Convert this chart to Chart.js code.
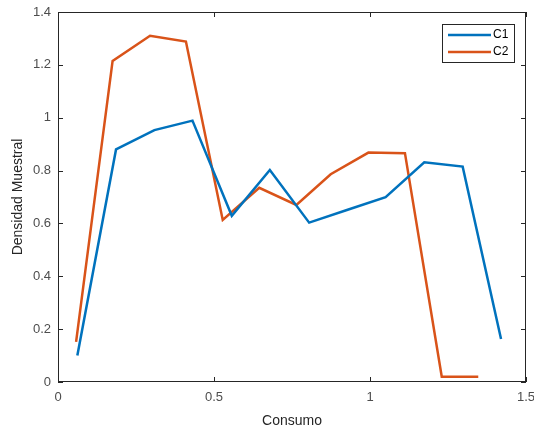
<!DOCTYPE html>
<html>
<head>
<meta charset="utf-8">
<script src="https://cdn.jsdelivr.net/npm/chart.js@4.4.0/dist/chart.umd.min.js"></script>
<style>
  html, body { margin: 0; padding: 0; background: #fff; }
  #wrap { width: 534px; height: 430px; }
</style>
</head>
<body>
<div id="wrap"><canvas id="densityChart" width="534" height="430"></canvas></div>
<script>
// values
const c1X = [0.062, 0.186, 0.309, 0.431, 0.557, 0.679, 0.805, 0.926, 1.050, 1.174, 1.297, 1.420];
const c1Y = [0.100, 0.880, 0.953, 0.989, 0.629, 0.802, 0.603, 0.651, 0.699, 0.831, 0.815, 0.163];
const c2X = [0.058, 0.175, 0.295, 0.410, 0.528, 0.645, 0.764, 0.874, 0.995, 1.112, 1.230, 1.347];
const c2Y = [0.152, 1.215, 1.310, 1.288, 0.613, 0.735, 0.670, 0.786, 0.868, 0.866, 0.020, 0.020];
const seriesNames = ['C1', 'C2'];
const xTicks = [0, 0.5, 1, 1.5];
const yTicks = [0, 0.2, 0.4, 0.6, 0.8, 1, 1.2, 1.4];

const blue = '#0072BD';
const orange = '#D95319';
const axisColor = '#262626';
const tickText = '#4d4d4d';

function toPoints(xs, ys) {
    return xs.map((x, i) => ({ x: x, y: ys[i] }));
}

// box around the axes with inward ticks, matlab style
const boxAxes = {
    id: 'boxAxes',
    afterDraw(chart) {
        const ctx = chart.ctx;
        const a = chart.chartArea;
        const xs = chart.scales.x, ys = chart.scales.y;
        ctx.save();
        ctx.strokeStyle = axisColor;
        ctx.lineWidth = 1;
        ctx.strokeRect(a.left + 0.5, a.top + 0.5, a.right - a.left - 1, a.bottom - a.top - 1);
        const len = 5;
        ctx.beginPath();
        xs.ticks.forEach(t => {
            const px = Math.round(xs.getPixelForValue(t.value)) + 0.5;
            ctx.moveTo(px, a.bottom); ctx.lineTo(px, a.bottom - len);
            ctx.moveTo(px, a.top); ctx.lineTo(px, a.top + len);
        });
        ys.ticks.forEach(t => {
            const py = Math.round(ys.getPixelForValue(t.value)) + 0.5;
            ctx.moveTo(a.left, py); ctx.lineTo(a.left + len, py);
            ctx.moveTo(a.right, py); ctx.lineTo(a.right - len, py);
        });
        ctx.stroke();
        ctx.restore();
    }
};

// legend box in the upper right corner of the axes
const cornerLegend = {
    id: 'cornerLegend',
    afterDraw(chart) {
        const ctx = chart.ctx;
        const a = chart.chartArea;
        const w = 72, h = 38;
        const x0 = a.right - 84, y0 = a.top + 12;
        ctx.save();
        ctx.fillStyle = '#fff';
        ctx.fillRect(x0, y0, w, h);
        ctx.strokeStyle = axisColor;
        ctx.lineWidth = 1;
        ctx.strokeRect(x0 + 0.5, y0 + 0.5, w, h);
        ctx.font = '12px "Liberation Sans", Arial, sans-serif';
        ctx.textBaseline = 'middle';
        chart.data.datasets.forEach((ds, i) => {
            const yy = y0 + 11 + i * 17;
            ctx.strokeStyle = ds.borderColor;
            ctx.lineWidth = 2.5;
            ctx.beginPath();
            ctx.moveTo(x0 + 6, yy);
            ctx.lineTo(x0 + 49, yy);
            ctx.stroke();
            ctx.fillStyle = '#000';
            ctx.fillText(ds.label, x0 + 51, yy);
        });
        ctx.restore();
    }
};

const ctx = document.getElementById('densityChart').getContext('2d');
const densityChart = new Chart(ctx, {
    type: 'line',
    data: {
        datasets: [
            {
                label: seriesNames[0],
                data: toPoints(c1X, c1Y),
                borderColor: blue,
                backgroundColor: blue,
                borderWidth: 2.5,
                pointRadius: 0,
                tension: 0
            },
            {
                label: seriesNames[1],
                data: toPoints(c2X, c2Y),
                borderColor: orange,
                backgroundColor: orange,
                borderWidth: 2.5,
                pointRadius: 0,
                tension: 0
            }
        ]
    },
    options: {
        responsive: false,
        animation: false,
        layout: { padding: { left: 0, right: 8, top: 12, bottom: 0 } },
        plugins: {
            legend: { display: false },
            tooltip: { enabled: false }
        },
        scales: {
            x: {
                type: 'linear',
                min: 0,
                max: 1.5,
                afterBuildTicks: s => { s.ticks = xTicks.map(v => ({ value: v })); },
                afterFit: s => { s.height = 48; s.paddingLeft = 0; s.paddingRight = 0; },
                grid: { display: false, drawTicks: false },
                border: { display: false },
                ticks: {
                    color: tickText,
                    font: { family: '"Liberation Sans", Arial, sans-serif', size: 13 },
                    padding: 8,
                    maxRotation: 0,
                    callback: v => String(v)
                },
                title: {
                    display: true,
                    text: 'Consumo',
                    color: '#262626',
                    font: { family: '"Liberation Sans", Arial, sans-serif', size: 14 },
                    padding: { top: 2, bottom: 0 }
                }
            },
            y: {
                min: 0,
                max: 1.4,
                afterBuildTicks: s => { s.ticks = yTicks.map(v => ({ value: v })); },
                afterFit: s => { s.width = 58; s.paddingTop = 0; s.paddingBottom = 0; },
                grid: { display: false, drawTicks: false },
                border: { display: false },
                ticks: {
                    color: tickText,
                    font: { family: '"Liberation Sans", Arial, sans-serif', size: 13 },
                    padding: 7,
                    callback: v => String(v)
                },
                title: {
                    display: true,
                    text: 'Densidad Muestral',
                    color: '#262626',
                    font: { family: '"Liberation Sans", Arial, sans-serif', size: 14 },
                    padding: { top: 10, bottom: 4 }
                }
            }
        }
    },
    plugins: [boxAxes, cornerLegend]
});
</script>
</body>
</html>
